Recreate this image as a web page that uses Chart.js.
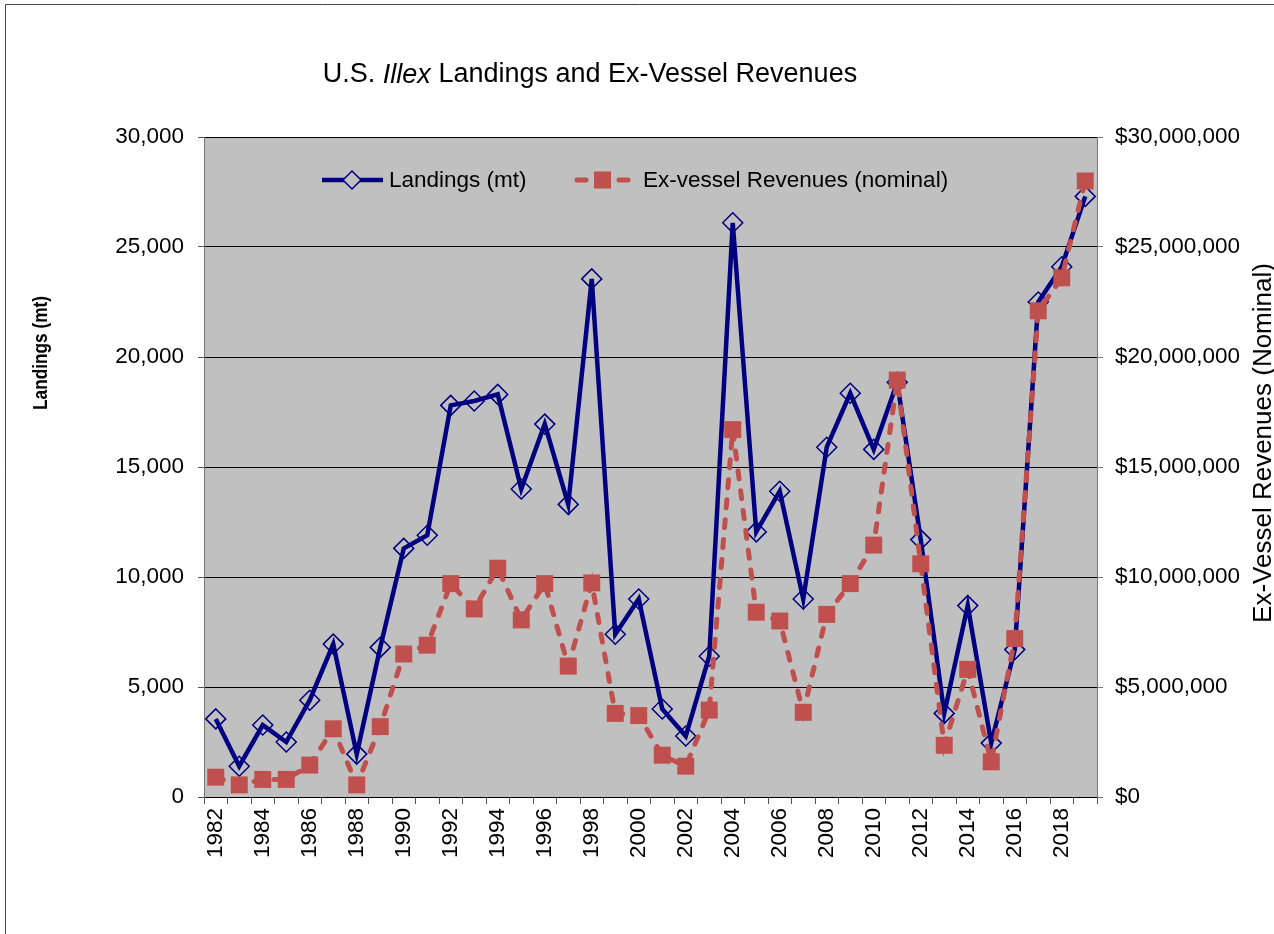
<!DOCTYPE html>
<html>
<head>
<meta charset="utf-8">
<script src="https://cdn.jsdelivr.net/npm/chart.js@4.4.1/dist/chart.umd.min.js"></script>
<style>
  html, body { margin: 0; padding: 0; background: #fff; }
  #wrap { position: relative; width: 1274px; height: 934px; }
</style>
</head>
<body>
<div id="wrap"><canvas id="chart"></canvas></div>
<script>
// data
const years = [1982, 1983, 1984, 1985, 1986, 1987, 1988, 1989, 1990, 1991,
  1992, 1993, 1994, 1995, 1996, 1997, 1998, 1999, 2000, 2001,
  2002, 2003, 2004, 2005, 2006, 2007, 2008, 2009, 2010, 2011,
  2012, 2013, 2014, 2015, 2016, 2017, 2018, 2019];

const landings = [3550, 1400, 3270, 2500, 4400, 6950, 1950, 6800, 11300, 11900,
  17800, 18000, 18300, 14000, 16950, 13300, 23550, 7400, 9000, 4000,
  2770, 6400, 26100, 12050, 13900, 9000, 15900, 18350, 15800, 18850,
  11700, 3800, 8700, 2450, 6700, 22500, 24100, 27300];

const revenues = [900000, 550000, 800000, 800000, 1450000, 3100000, 550000, 3200000, 6500000, 6900000,
  9700000, 8550000, 10400000, 8050000, 9700000, 5950000, 9730000, 3800000, 3700000, 1900000,
  1400000, 3950000, 16700000, 8400000, 8000000, 3850000, 8300000, 9700000, 11450000, 18950000,
  10600000, 2350000, 5800000, 1600000, 7200000, 22100000, 23600000, 28000000];

const leftTicks = { min: 0, max: 30000, step: 5000 };
const rightTicks = { min: 0, max: 30000000, step: 5000000 };

const NAVY = '#000080';
const RED = '#C0504D';
const PLOT_BG = '#C0C0C0';
const FONT = '"Liberation Sans", Arial, sans-serif';

// grey plot background + page frame
const background = {
  id: 'background',
  beforeDraw(chart) {
    const { ctx, chartArea: a } = chart;
    ctx.save();
    ctx.fillStyle = PLOT_BG;
    ctx.fillRect(a.left, a.top, a.right - a.left, a.bottom - a.top);
    ctx.strokeStyle = '#444';
    ctx.lineWidth = 1;
    ctx.beginPath();
    ctx.moveTo(5.5, chart.height);
    ctx.lineTo(5.5, 4.5);
    ctx.lineTo(chart.width, 4.5);
    ctx.stroke();
    ctx.restore();
  }
};

// title, axis titles and the legend that sits inside the plot
const decorations = {
  id: 'decorations',
  afterDraw(chart) {
    const { ctx } = chart;
    ctx.save();
    ctx.fillStyle = '#000';
    ctx.textBaseline = 'middle';

    // title with italic genus name
    const parts = [
      { t: 'U.S. ', f: '27px ' + FONT },
      { t: 'Illex', f: 'italic 27px ' + FONT },
      { t: ' Landings and Ex-Vessel Revenues', f: '27px ' + FONT }
    ];
    let total = 0;
    parts.forEach(p => { ctx.font = p.f; p.w = ctx.measureText(p.t).width; total += p.w; });
    let x = 590 - total / 2;
    ctx.textAlign = 'left';
    parts.forEach(p => { ctx.font = p.f; ctx.fillText(p.t, x, 75); x += p.w; });

    // axis titles (left one is a condensed bold face in the original)
    ctx.textAlign = 'center';
    ctx.save();
    ctx.translate(41, 353);
    ctx.rotate(-Math.PI / 2);
    ctx.font = 'bold 21px ' + FONT;
    const lw = ctx.measureText('Landings (mt)').width;
    ctx.scale(114 / lw, 1);
    ctx.fillText('Landings (mt)', 0, 0);
    ctx.restore();

    ctx.save();
    ctx.translate(1264, 443);
    ctx.rotate(-Math.PI / 2);
    ctx.font = '26px ' + FONT;
    ctx.fillText('Ex-Vessel Revenues (Nominal)', 0, 0);
    ctx.restore();

    // legend
    const ly = 180;
    ctx.strokeStyle = NAVY;
    ctx.lineWidth = 4.5;
    ctx.beginPath();
    ctx.moveTo(322, ly);
    ctx.lineTo(383, ly);
    ctx.stroke();
    ctx.fillStyle = PLOT_BG;
    ctx.lineWidth = 1.5;
    ctx.beginPath();
    ctx.moveTo(352, ly - 9);
    ctx.lineTo(361, ly);
    ctx.lineTo(352, ly + 9);
    ctx.lineTo(343, ly);
    ctx.closePath();
    ctx.fill();
    ctx.stroke();

    ctx.strokeStyle = RED;
    ctx.lineWidth = 5;
    ctx.lineCap = 'round';
    ctx.beginPath();
    ctx.moveTo(577, ly); ctx.lineTo(586, ly);
    ctx.moveTo(619, ly); ctx.lineTo(628, ly);
    ctx.stroke();
    ctx.fillStyle = RED;
    ctx.fillRect(594, ly - 8.5, 17, 17);

    ctx.fillStyle = '#000';
    ctx.textAlign = 'left';
    ctx.font = '22.5px ' + FONT;
    ctx.fillText('Landings (mt)', 389, ly + 1);
    ctx.fillText('Ex-vessel Revenues (nominal)', 643, ly + 1);
    ctx.restore();
  }
};

const ctx = document.getElementById('chart').getContext('2d');

new Chart(ctx, {
  type: 'line',
  data: {
    labels: years.map(String),
    datasets: [
      {
        label: 'Landings (mt)',
        data: landings,
        yAxisID: 'y',
        order: 1,
        borderColor: NAVY,
        borderWidth: 4.5,
        tension: 0,
        pointStyle: 'rectRot',
        pointRadius: 10,
        pointBorderWidth: 1.5,
        pointBorderColor: NAVY,
        pointBackgroundColor: 'rgba(0,0,0,0)'
      },
      {
        label: 'Ex-vessel Revenues (nominal)',
        data: revenues,
        yAxisID: 'y1',
        order: 0,
        borderColor: RED,
        borderWidth: 5,
        borderDash: [8, 12],
        borderCapStyle: 'round',
        tension: 0,
        pointStyle: 'rect',
        pointRadius: 12,
        pointBorderWidth: 0,
        pointBackgroundColor: RED,
        pointBorderColor: RED
      }
    ]
  },
  options: {
    responsive: true,
    maintainAspectRatio: false,
    animation: false,
    layout: { padding: { top: 137, left: 0, right: 0, bottom: 0 } },
    plugins: {
      legend: { display: false },
      title: { display: false },
      tooltip: { enabled: false }
    },
    scales: {
      x: {
        offset: true,
        afterFit(scale) { scale.height = 137; },
        grid: { offset: true, drawOnChartArea: false, drawTicks: true, tickLength: 7, color: '#555' },
        border: { color: '#000' },
        ticks: {
          autoSkip: false,
          maxRotation: 90,
          minRotation: 90,
          padding: 4,
          color: '#000',
          font: { family: FONT, size: 22.5 },
          callback(value, index) {
            return years[index] % 2 === 0 ? String(years[index]) : '';
          }
        }
      },
      y: {
        position: 'left',
        min: leftTicks.min,
        max: leftTicks.max,
        afterFit(scale) { scale.width = 204; },
        grid: { color: '#000', tickColor: '#555', tickLength: 6 },
        border: { color: '#777' },
        ticks: {
          stepSize: leftTicks.step,
          padding: 14,
          color: '#000',
          font: { family: FONT, size: 22.5 },
          callback: v => v.toLocaleString('en-US')
        }
      },
      y1: {
        position: 'right',
        min: rightTicks.min,
        max: rightTicks.max,
        afterFit(scale) { scale.width = 177; },
        grid: { drawOnChartArea: false, color: '#777', tickLength: 6 },
        border: { color: '#777' },
        ticks: {
          stepSize: rightTicks.step,
          padding: 12,
          color: '#000',
          font: { family: FONT, size: 22.5 },
          callback: v => '$' + v.toLocaleString('en-US')
        }
      }
    }
  },
  plugins: [background, decorations]
});
</script>
</body>
</html>
